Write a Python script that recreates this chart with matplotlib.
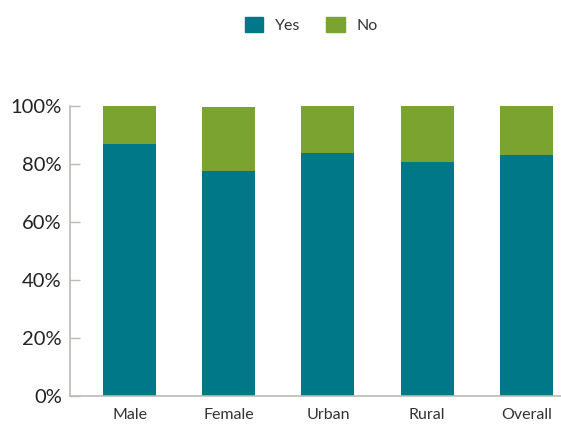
import numpy as np
import matplotlib.pyplot as plt
from matplotlib.patches import Patch
from matplotlib.ticker import FuncFormatter

plt.rcParams['font.family'] = ['Lato', 'DejaVu Sans']

# Données
categories = ["Male", "Female", "Urban", "Rural", "Overall"]
oui = [87, 77.7, 84, 80.8, 83]
non = [13, 22, 16, 19.2, 17]

TEAL = "#017888"
VERT = "#7BA32F"
GRIS = "#BDBAB2"

fig = plt.figure(figsize=(5.61, 4.28), dpi=100)
ax = fig.add_axes([0.125, 0.075, 0.875, 0.677])

x = np.arange(len(categories))
ax.bar(x, oui, width=0.535, color=TEAL)
ax.bar(x, non, width=0.535, bottom=oui, color=VERT)

ax.set_xlim(-0.6, 4.35)
ax.set_ylim(0, 100)
ax.set_yticks(np.arange(0, 101, 20))
ax.yaxis.set_major_formatter(FuncFormatter(lambda v, p: f"{v:.0f}%"))
ax.set_xticks(x)
ax.set_xticklabels(categories)

for s in ["top", "right"]:
    ax.spines[s].set_visible(False)
for s in ["left", "bottom"]:
    ax.spines[s].set_color(GRIS)
    ax.spines[s].set_linewidth(1.2)

ax.tick_params(axis="y", direction="in", length=7.5, color=GRIS, width=1,
               labelsize=14.5, labelcolor="#222222", pad=6)
ax.tick_params(axis="x", length=0, labelsize=11.5, labelcolor="#333333", pad=9)

# Légende
poignees = [Patch(color=TEAL, label="Yes"), Patch(color=VERT, label="No")]
fig.legend(handles=poignees, loc="upper center", bbox_to_anchor=(0.555, 0.995),
           ncol=2, frameon=False, fontsize=11.5, handlelength=1.15, handleheight=1.15,
           handletextpad=0.75, columnspacing=1.6, labelcolor="#333333")

plt.savefig("out.png", dpi=100)
plt.close()
